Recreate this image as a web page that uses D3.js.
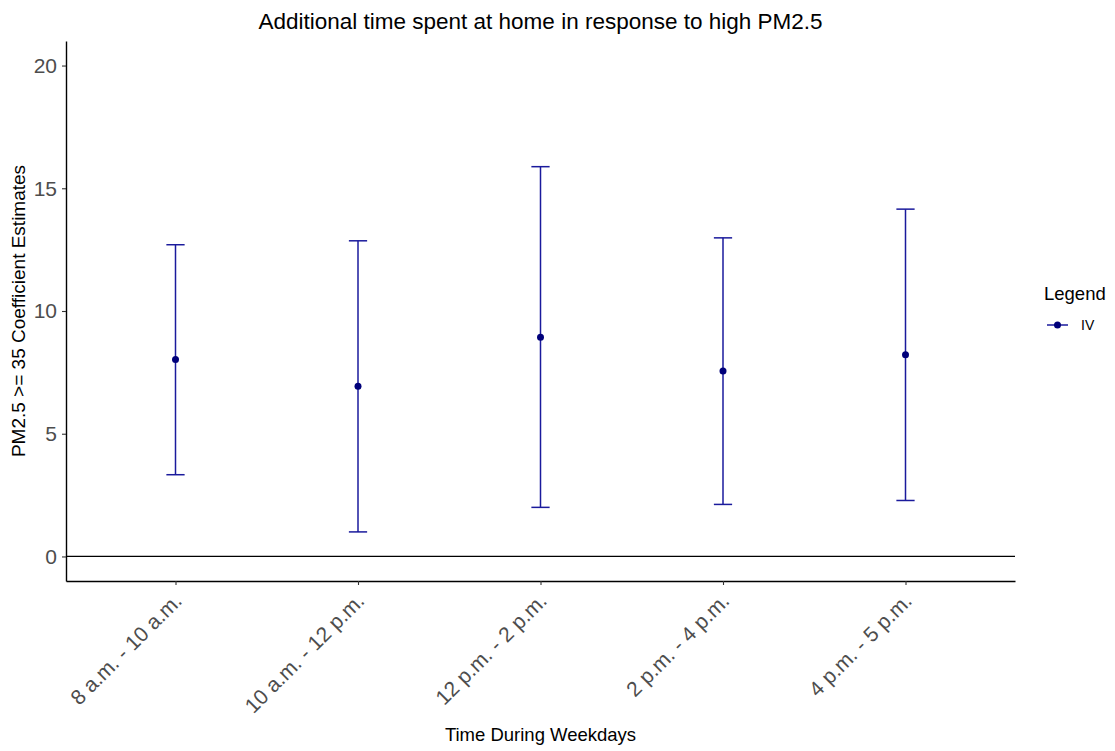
<!DOCTYPE html>
<html>
<head>
<meta charset="utf-8">
<script src="https://cdn.jsdelivr.net/npm/d3@7"></script>
<style>
  body { margin: 0; background: #fff; }
  svg { font-family: "Liberation Sans", Arial, sans-serif; }
</style>
</head>
<body>
<script>
// data
const categories = ["8 a.m. - 10 a.m.", "10 a.m. - 12 p.m.", "12 p.m. - 2 p.m.", "2 p.m. - 4 p.m.", "4 p.m. - 5 p.m."];
const estimates = [8.02, 6.93, 8.93, 7.56, 8.22];
const lower = [3.33, 1.0, 2.0, 2.12, 2.28];
const upper = [12.7, 12.86, 15.88, 12.98, 14.15];
const yTicks = [0, 5, 10, 15, 20];
const seriesName = "IV";

const W = 1115, H = 751;
const margin = { top: 41, right: 100, bottom: 170, left: 66 };
const width = W - margin.left - margin.right,
  height = H - margin.top - margin.bottom;

const lineCol = "#1a1a9c", pointCol = "#00007a";

const svg = d3.select("body").append("svg")
  .attr("width", W)
  .attr("height", H);

const g = svg.append("g")
  .attr("transform", "translate(" + margin.left + "," + margin.top + ")");

const x = d3.scalePoint().domain(categories).range([0, width]).padding(0.6);
const y = d3.scaleLinear().domain([-1, 21]).range([height, 0]);

// horizontal reference line at 0
g.append("line")
  .attr("x1", 0).attr("x2", width)
  .attr("y1", y(0)).attr("y2", y(0))
  .attr("stroke", "#000").attr("stroke-width", 1.3);

const rows = categories.map((c, i) => ({ c: c, est: estimates[i], lo: lower[i], hi: upper[i] }));
const capW = x.step() * 0.1;

const bars = g.selectAll(".bar").data(rows).enter().append("g").attr("class", "bar");
bars.append("line")
  .attr("x1", d => x(d.c)).attr("x2", d => x(d.c))
  .attr("y1", d => y(d.lo)).attr("y2", d => y(d.hi))
  .attr("stroke", lineCol).attr("stroke-width", 1.5);
bars.append("line")
  .attr("x1", d => x(d.c) - capW / 2).attr("x2", d => x(d.c) + capW / 2)
  .attr("y1", d => y(d.hi)).attr("y2", d => y(d.hi))
  .attr("stroke", lineCol).attr("stroke-width", 1.5);
bars.append("line")
  .attr("x1", d => x(d.c) - capW / 2).attr("x2", d => x(d.c) + capW / 2)
  .attr("y1", d => y(d.lo)).attr("y2", d => y(d.lo))
  .attr("stroke", lineCol).attr("stroke-width", 1.5);
bars.append("circle")
  .attr("cx", d => x(d.c)).attr("cy", d => y(d.est))
  .attr("r", 3.5).attr("fill", pointCol);

// axes
const yAxis = g.append("g")
  .call(d3.axisLeft(y).tickValues(yTicks).tickSize(4).tickSizeOuter(0).tickPadding(5));
yAxis.selectAll("text").attr("font-size", "21px").attr("fill", "#4d4d4d")
  .attr("font-family", "Liberation Sans, Arial, sans-serif");

const xAxis = g.append("g")
  .attr("transform", "translate(0," + height + ")")
  .call(d3.axisBottom(x).tickSize(4).tickSizeOuter(0));
xAxis.selectAll("text")
  .attr("font-size", "21px").attr("fill", "#4d4d4d")
  .attr("font-family", "Liberation Sans, Arial, sans-serif")
  .attr("text-anchor", "end")
  .attr("y", 0).attr("dy", "0.35em")
  .attr("transform", "translate(2,16) rotate(-45)");

[yAxis, xAxis].forEach(a => {
  a.select(".domain").attr("stroke", "#000").attr("stroke-width", 1.4);
  a.selectAll(".tick line").attr("stroke", "#333").attr("stroke-width", 1.1);
});

// titles
svg.append("text")
  .attr("x", margin.left + width / 2).attr("y", 29)
  .attr("text-anchor", "middle")
  .attr("font-size", "22.5px").attr("fill", "#000")
  .text("Additional time spent at home in response to high PM2.5");

svg.append("text")
  .attr("x", margin.left + width / 2).attr("y", 741)
  .attr("text-anchor", "middle")
  .attr("font-size", "18.5px").attr("fill", "#000")
  .text("Time During Weekdays");

svg.append("text")
  .attr("transform", "translate(25," + (margin.top + height / 2) + ") rotate(-90)")
  .attr("text-anchor", "middle")
  .attr("font-size", "19px").attr("fill", "#000")
  .text("PM2.5 >= 35 Coefficient Estimates");

// legend
const leg = svg.append("g").attr("transform", "translate(1044,300)");
leg.append("text").attr("x", 0).attr("y", 0)
  .attr("font-size", "18.5px").attr("fill", "#000").text("Legend");
leg.append("line").attr("x1", 3).attr("x2", 24).attr("y1", 25).attr("y2", 25)
  .attr("stroke", lineCol).attr("stroke-width", 1.5);
leg.append("circle").attr("cx", 13.5).attr("cy", 25).attr("r", 3.5).attr("fill", pointCol);
leg.append("text").attr("x", 37).attr("y", 30)
  .attr("font-size", "14px").attr("fill", "#000").text(seriesName);
</script>
</body>
</html>
